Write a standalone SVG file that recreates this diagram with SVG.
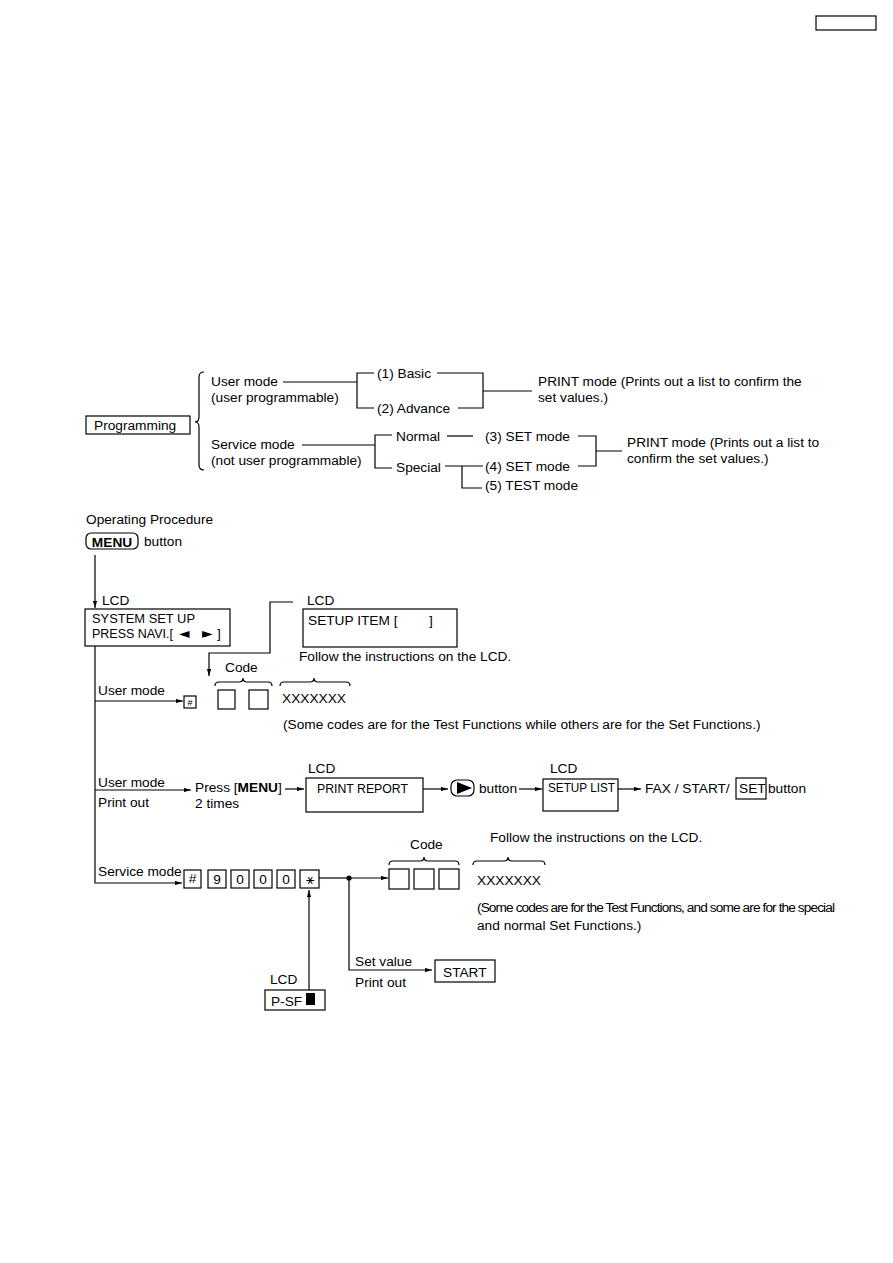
<svg xmlns="http://www.w3.org/2000/svg" width="893" height="1263" viewBox="0 0 893 1263">
<defs>
<marker id="ah" viewBox="0 0 10 6" refX="10" refY="3" markerWidth="7" markerHeight="4.2" orient="auto" markerUnits="userSpaceOnUse"><path d="M0,0 L10,3 L0,6 z" fill="#000"/></marker>
</defs>
<style>
text{font-family:"Liberation Sans",Arial,"DejaVu Sans",sans-serif;font-size:13.7px;fill:#000}
.b{font-weight:bold}
.sm{font-size:9px}
.box{fill:none;stroke:#000;stroke-width:1.2}
.ln{fill:none;stroke:#000;stroke-width:1.2}
.ar{fill:none;stroke:#000;stroke-width:1.2;marker-end:url(#ah)}
.mid{text-anchor:middle}
.sym{font-family:"DejaVu Sans",sans-serif}
</style>
<rect width="893" height="1263" fill="#fff"/>
<g id="page-tag"><rect x="816" y="16" width="60" height="14" class="box"/></g>

<g id="connectors">
<path class="ln" d="M204 372 Q199 372 199 377 L199 417 Q199 422 195 422 Q199 422 199 427 L199 465 Q199 470 204 470"/>
<path class="ln" d="M283 382 H357 M374 373 H357 V408 H374"/>
<path class="ln" d="M437 373 H483 V408 H458 M483 391 H532"/>
<path class="ln" d="M302 445 H375 M392 435 H375 V468 H392"/>
<path class="ln" d="M447 436 H473"/>
<path class="ln" d="M578 436 H596 V466 H578 M596 451 H622"/>
<path class="ln" d="M445 466 H483 M462 466 V488 H482"/>
<path class="ar" d="M95 555 V608"/>
<path class="ar" d="M293 602 H270 V653 H209 V676"/>
<path class="ar" d="M95 646 V883 H182"/>
<path class="ar" d="M95 701 H183"/>
<path class="ar" d="M95 790 H191"/>
<path class="ar" d="M285 789 H304"/>
<path class="ar" d="M423 789 H448"/>
<path class="ar" d="M519 789 H542"/>
<path class="ar" d="M618 789 H641"/>
<path class="ln" d="M319 878 H349"/>
<path class="ar" d="M349 878 H388"/>
<path class="ar" d="M349 878 V970 H432"/>
<path class="ar" d="M309 990 V890"/>
<circle cx="349" cy="878" r="2.6" fill="#000"/>
<path class="ln" d="M215 686 Q215 682 219 682 L239 682 Q243 682 243 678 Q243 682 247 682 L268 682 Q272 682 272 686"/>
<path class="ln" d="M280 686 Q280 682 284 682 L310 682 Q314 682 314 678 Q314 682 318 682 L346 682 Q350 682 350 686"/>
<path class="ln" d="M389 865 Q389 861 393 861 L420 861 Q424 861 424 857 Q424 861 428 861 L455 861 Q459 861 459 865"/>
<path class="ln" d="M473 865 Q473 861 477 861 L504 861 Q508 861 508 857 Q508 861 512 861 L541 861 Q545 861 545 865"/>
</g>

<g id="programming"><rect x="86" y="416" width="104" height="18" class="box"/><text x="94" y="430">Programming</text></g>
<g id="user-mode"><text x="211" y="386">User mode</text><text x="211" y="402">(user programmable)</text></g>
<g id="basic"><text x="377" y="378">(1) Basic</text></g>
<g id="advance"><text x="377" y="413">(2) Advance</text></g>
<g id="print-mode-1"><text x="538" y="386">PRINT mode (Prints out a list to confirm the</text><text x="538" y="402">set values.)</text></g>
<g id="service-mode"><text x="211" y="449">Service mode</text><text x="211" y="465">(not user programmable)</text></g>
<g id="normal"><text x="396" y="441">Normal</text></g>
<g id="special"><text x="396" y="472">Special</text></g>
<g id="set3"><text x="485" y="441">(3) SET mode</text></g>
<g id="set4"><text x="485" y="471">(4) SET mode</text></g>
<g id="test5"><text x="485" y="490">(5) TEST mode</text></g>
<g id="print-mode-2"><text x="627" y="447">PRINT mode (Prints out a list to</text><text x="627" y="463">confirm the set values.)</text></g>

<g id="op-title"><text x="86" y="524">Operating Procedure</text></g>
<g id="menu-button"><rect x="86" y="533" width="52" height="16" rx="5" class="box" stroke-width="1.6"/><text x="112" y="547" class="b mid" font-size="14.5">MENU</text><text x="144" y="546">button</text></g>
<g id="lcd-system"><text x="102" y="605">LCD</text><rect x="85" y="609" width="145" height="37" class="box"/><text x="92" y="623" textLength="103" lengthAdjust="spacingAndGlyphs">SYSTEM SET UP</text><text x="92" y="638" textLength="81" lengthAdjust="spacingAndGlyphs">PRESS NAVI.[</text><text x="179" y="638" class="sym" font-size="13">◄</text><text x="202" y="638" class="sym" font-size="13">►</text><text x="217" y="638">]</text></g>
<g id="lcd-setup-item"><text x="307" y="605">LCD</text><rect x="303" y="609" width="154" height="38" class="box"/><text x="308" y="625">SETUP ITEM [</text><text x="429" y="625">]</text><text x="299" y="661">Follow the instructions on the LCD.</text></g>

<g id="user-mode-row"><text x="98" y="695">User mode</text><rect x="184" y="696" width="12" height="12" class="box"/><text x="190" y="705.5" class="sm mid">#</text><rect x="218" y="690" width="17" height="19" class="box"/><rect x="249" y="690" width="19" height="19" class="box"/><text x="225" y="672">Code</text><text x="282" y="703">XXXXXXX</text><text x="283" y="729">(Some codes are for the Test Functions while others are for the Set Functions.)</text></g>

<g id="print-out-row"><text x="98" y="787">User mode</text><text x="98" y="807">Print out</text><text x="195" y="792">Press [<tspan class="b">MENU</tspan>]</text><text x="195" y="808">2 times</text></g>
<g id="lcd-print-report"><text x="308" y="773">LCD</text><rect x="306" y="778" width="117" height="34" class="box"/><text x="317" y="793" textLength="91" lengthAdjust="spacingAndGlyphs">PRINT REPORT</text></g>
<g id="play-button"><rect x="451" y="780" width="23" height="16" rx="6" class="box" stroke-width="1.5"/><polygon points="457,782 457,794 472,788" fill="#000"/><text x="479" y="793">button</text></g>
<g id="lcd-setup-list"><text x="550" y="773">LCD</text><rect x="543" y="779" width="75" height="32" class="box"/><text x="548" y="792" textLength="67" lengthAdjust="spacingAndGlyphs">SETUP LIST</text></g>
<g id="fax-start"><text x="645" y="793">FAX / START/</text><rect x="736" y="778" width="30" height="21" class="box"/><text x="739" y="793">SET</text><text x="768" y="793">button</text></g>

<g id="service-mode-row"><text x="98" y="876">Service mode</text>
<rect x="184" y="870" width="17" height="18" class="box"/><text x="192.5" y="883" class="mid" font-size="10">#</text>
<rect x="208" y="870" width="18" height="18" class="box"/><text x="217" y="884" class="mid" font-size="13">9</text>
<rect x="231" y="870" width="18" height="18" class="box"/><text x="240" y="884" class="mid" font-size="13">0</text>
<rect x="254" y="870" width="18" height="18" class="box"/><text x="263" y="884" class="mid" font-size="13">0</text>
<rect x="277" y="870" width="18" height="18" class="box"/><text x="286" y="884" class="mid" font-size="13">0</text>
<rect x="300" y="870" width="19" height="18" class="box"/><text x="309.5" y="884" class="mid sym" font-size="13">⚹</text>
</g>
<g id="service-code"><rect x="389" y="869" width="20" height="20" class="box"/><rect x="414" y="869" width="20" height="20" class="box"/><rect x="439" y="869" width="20" height="20" class="box"/><text x="410" y="849">Code</text><text x="490" y="842">Follow the instructions on the LCD.</text><text x="477" y="885">XXXXXXX</text><text x="477" y="912" font-size="13" textLength="358" lengthAdjust="spacing">(Some codes are for the Test Functions, and some are for the special</text><text x="477" y="930">and normal Set Functions.)</text></g>
<g id="set-value"><text x="355" y="966">Set value</text><text x="355" y="987">Print out</text></g>
<g id="start"><rect x="435" y="960" width="60" height="22" class="box"/><text x="443" y="977" font-size="14">START</text></g>
<g id="lcd-psf"><text x="270" y="984">LCD</text><rect x="265" y="990" width="60" height="20" class="box"/><text x="271" y="1006">P-SF</text><rect x="306" y="993" width="9" height="12" fill="#000"/></g>
</svg>
